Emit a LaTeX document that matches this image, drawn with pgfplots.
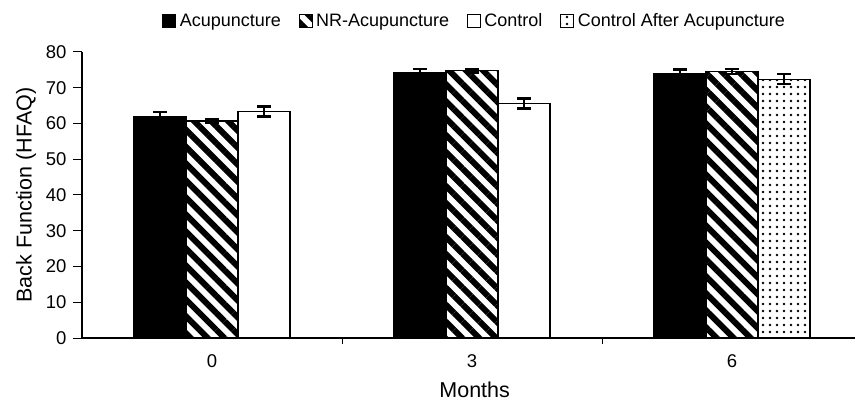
\documentclass[border=0pt]{standalone}
\usepackage{fontspec}
\setmainfont{Liberation Sans}
\usepackage{pgfplots}
\pgfplotsset{compat=1.18}
\usetikzlibrary{patterns.meta}

\begin{document}
\begin{tikzpicture}
\begin{axis}[
    at={(82pt,64pt)}, anchor=south west,
    scale only axis, width=773pt, height=286pt,
    xmin=-0.5, xmax=2.473, ymin=0, ymax=80,
    axis x line*=bottom, axis y line*=left,
    axis line style={line width=1.2pt},
    xtick={0,1,2}, xticklabels={0,3,6},
    minor xtick={0.5,1.5},
    major x tick style={draw=none},
    minor x tick style={line width=1pt, black},
    ytick={0,10,...,80},
    tick align=outside, major tick length=9pt, minor tick length=6pt,
    y tick style={line width=1pt, black},
    /pgf/number format/assume math mode=true,
    ticklabel style={font=\fontsize{18.5}{20}\selectfont},
    xticklabel style={yshift=-4pt},
    yticklabel style={xshift=-3pt},
    label style={font=\fontsize{21.5}{24}\selectfont},
    xlabel={Months}, ylabel={Back Function (HFAQ)},
    xlabel style={at={(axis description cs:0.508,-0.182)}, anchor=center},
    ylabel style={at={(axis description cs:-0.0724,0.5)}, anchor=center},
    ybar, bar width=0.2,
    error bars/y dir=both, error bars/y explicit,
    error bars/error bar style={line width=2.5pt, black},
    error bars/error mark options={rotate=90, mark size=7pt, line width=2.5pt, black},
    legend columns=4,
    legend style={draw=none, fill=none, at={(axis description cs:0.508,1.108)}, anchor=center,
        font=\fontsize{18}{20}\selectfont,
        /tikz/every odd column/.append style={column sep=1.5pt},
        /tikz/every even column/.append style={column sep=16pt}},
    legend image code/.code={\draw[#1, line width=0.8pt] (0pt,-6pt) rectangle (13pt,7pt);},
]
\addplot[draw=black, line width=1.2pt, fill=black, bar shift=-0.2]
    coordinates {(0,61.9) +- (0,1.3) (1,74.3) +- (0,0.9) (2,74.0) +- (0,1.1)};
\addlegendentry{Acupuncture}
\addplot[draw=black, line width=1.2pt, fill=white,
    postaction={pattern={Lines[angle=-45, distance=12pt, line width=6pt]}}, bar shift=0]
    coordinates {(0,60.7) +- (0,0.5) (1,74.8) +- (0,0.5) (2,74.5) +- (0,0.7)};
\addlegendentry{NR-Acupuncture}
\addplot[draw=black, line width=1.2pt, fill=white, bar shift=0.2]
    coordinates {(0,63.4) +- (0,1.4) (1,65.6) +- (0,1.4)};
\addlegendentry{Control}
\addplot[draw=black, line width=1.2pt, fill=white,
    postaction={pattern={Dots[distance=7pt, radius=1.4pt]}}, bar shift=0.2]
    coordinates {(2,72.4) +- (0,1.4)};
\addlegendentry{Control After Acupuncture}
\end{axis}
\pgfresetboundingbox
\path (0,0) rectangle (855pt,402pt);
\end{tikzpicture}
\end{document}
